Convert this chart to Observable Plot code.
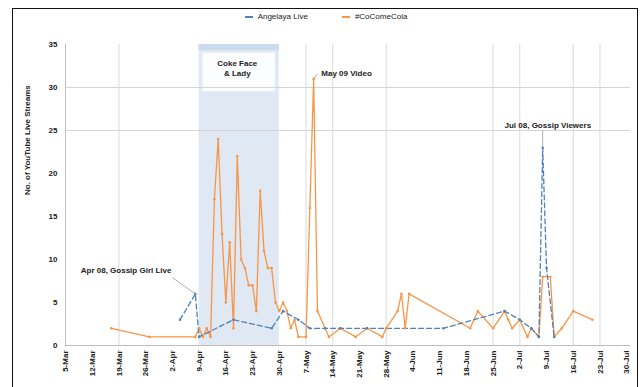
<!DOCTYPE html>
<html>
<head>
<meta charset="utf-8">
<script src="https://cdn.jsdelivr.net/npm/d3@7"></script>
<script src="https://cdn.jsdelivr.net/npm/@observablehq/plot@0.6"></script>
<style>
  body { margin: 0; background: #fff; font-family: "Liberation Sans", Arial, sans-serif; }
  #wrap { position: relative; width: 642px; height: 387px; overflow: hidden; }
  #frame { position: absolute; left: 12px; top: 8px; width: 626px; height: 380px; border: 1.5px solid #111; box-sizing: border-box; pointer-events: none; }
  #legend { position: absolute; top: 12px; left: 0; width: 642px; display: flex; justify-content: center; gap: 34px; font-size: 8px; color: #222; padding-left: 10px; box-sizing: border-box; }
  #legend span.key { display: inline-flex; align-items: center; gap: 5px; }
  #legend i { display: inline-block; width: 8px; height: 2px; }
  #chart { position: absolute; left: 0; top: 0; }
</style>
</head>
<body>
<div id="wrap">
  <div id="chart"></div>
  <div id="legend"></div>
  <div id="frame"></div>
</div>
<script>
// Series names and colours
const seriesNames = ["Angelaya Live", "#CoComeCola"];
const seriesColors = ["#4F81BD", "#F79646"];

// Daily counts of live streams, #CoComeCola
const colaDates = ["2013-03-17","2013-03-27","2013-04-08","2013-04-09","2013-04-10","2013-04-11","2013-04-12",
  "2013-04-13","2013-04-14","2013-04-15","2013-04-16","2013-04-17","2013-04-18","2013-04-19","2013-04-20",
  "2013-04-21","2013-04-22","2013-04-23","2013-04-24","2013-04-25","2013-04-26","2013-04-27","2013-04-28",
  "2013-04-29","2013-04-30","2013-05-01","2013-05-02","2013-05-03","2013-05-04","2013-05-05","2013-05-07",
  "2013-05-08","2013-05-09","2013-05-10","2013-05-12","2013-05-13","2013-05-16","2013-05-20","2013-05-23",
  "2013-05-27","2013-05-28","2013-05-31","2013-06-01","2013-06-02","2013-06-03","2013-06-19","2013-06-21",
  "2013-06-25","2013-06-28","2013-06-29","2013-06-30","2013-07-02","2013-07-04","2013-07-05","2013-07-07",
  "2013-07-08","2013-07-10","2013-07-11","2013-07-13","2013-07-16","2013-07-21"];
const colaValues = [2,1,1,2,1,2,1,
  17,24,13,5,12,2,22,10,
  9,7,7,4,18,11,9,9,
  5,4,5,4,2,3,1,1,
  16,31,4,2,1,2,1,2,
  1,2,4,6,2,6,2,4,
  2,4,3,2,3,1,2,1,
  8,8,1,2,4,3];

// Daily counts of live streams, Angelaya Live
const liveDates = ["2013-04-04","2013-04-08","2013-04-09","2013-04-18","2013-04-28","2013-05-01","2013-05-05",
  "2013-05-08","2013-05-12","2013-05-16","2013-05-23","2013-06-12","2013-06-28","2013-07-02","2013-07-05",
  "2013-07-07","2013-07-08","2013-07-09","2013-07-11"];
const liveValues = [3,6,1,3,2,4,3,
  2,2,2,2,2,4,3,2,
  1,23,9,1];

// Axis ticks
const tickDates = ["2013-03-05","2013-03-12","2013-03-19","2013-03-26","2013-04-02","2013-04-09","2013-04-16",
  "2013-04-23","2013-04-30","2013-05-07","2013-05-14","2013-05-21","2013-05-28","2013-06-04","2013-06-11",
  "2013-06-18","2013-06-25","2013-07-02","2013-07-09","2013-07-16","2013-07-23","2013-07-30"];
const yTicks = [0, 5, 10, 15, 20, 25, 30, 35];
const gridValues = [25, 30];
const gridDates = ["2013-03-19","2013-05-07","2013-05-14","2013-05-28","2013-06-25","2013-07-02","2013-07-16","2013-07-23"];

// Highlighted campaign period and notes
const bandStart = "2013-04-09", bandEnd = "2013-04-30";
const bandLabel = ["Coke Face", "& Lady"];
const notes = [
  {text: "Apr 08, Gossip Girl Live", tx: "2013-03-09", ty: 8.7, fx: "2013-04-02", fy: 7.9, px: "2013-04-08", py: 6},
  {text: "May 09 Video", tx: "2013-05-11", ty: 31.6, fx: "2013-05-10", fy: 31.6, px: "2013-05-09", py: 31},
  {text: "Jul 08, Gossip Viewers", tx: "2013-06-28", ty: 25.6, fx: "2013-07-08", fy: 25, px: "2013-07-08", py: 23}
];

const D = s => new Date(s + "T00:00:00Z");
const cola = colaDates.map((d, i) => ({date: D(d), value: colaValues[i]}));
const live = liveDates.map((d, i) => ({date: D(d), value: liveValues[i]}));
const noteRows = notes.map(n => ({...n, tx: D(n.tx), fx: D(n.fx), px: D(n.px)}));

const chart = Plot.plot({
  width: 642,
  height: 387,
  marginLeft: 65,
  marginRight: 12,
  marginTop: 44,
  marginBottom: 42,
  style: {fontFamily: "'Liberation Sans', Arial, sans-serif", fontSize: "8px", background: "transparent", color: "#222"},
  x: {type: "utc", domain: [D("2013-03-05"), D("2013-07-31")]},
  y: {domain: [0, 35]},
  marks: [
    // campaign period
    Plot.rect([{a: D(bandStart), b: D(bandEnd)}], {x1: "a", x2: "b", y1: 0, y2: 35, fill: "#dfe8f3"}),
    Plot.rect([{a: D(bandStart), b: D(bandEnd)}], {x1: "a", x2: "b", y1: 34.3, y2: 35, fill: "#ccdbec"}),
    Plot.rect([{a: D("2013-04-10"), b: D("2013-04-29")}], {x1: "a", x2: "b", y1: 29.5, y2: 34, fill: "#fff", fillOpacity: 0.9}),
    Plot.text([bandLabel.join("\n")], {x: D("2013-04-19"), y: 32.3, text: d => d, fontSize: 8, lineHeight: 1.25, fill: "#222", fontWeight: "bold"}),
    // grid
    Plot.ruleY(gridValues, {stroke: "#d4d4d4"}),
    Plot.ruleX(gridDates.map(D), {stroke: "#dadada", y1: 0, y2: 35}),
    // axes
    Plot.ruleY([0], {stroke: "#bdbdbd"}),
    Plot.ruleX([D("2013-03-05")], {stroke: "#bdbdbd", y1: 0, y2: 35}),
    Plot.axisY({ticks: yTicks, tickSize: 0, tickPadding: 8, label: null, fontWeight: "bold"}),
    Plot.axisX({ticks: tickDates.map(D), tickFormat: d3.utcFormat("%-d-%b"), tickRotate: -90, tickSize: 0, tickPadding: 5, label: null, fontWeight: "bold"}),
    Plot.text(["No. of YouTube Live Streams"], {frameAnchor: "left", dx: -38, rotate: -90, text: d => d, fontSize: 8, fill: "#222", fontWeight: "bold"}),
    // series
    Plot.line(cola, {x: "date", y: "value", stroke: seriesColors[1], strokeWidth: 1.3}),
    Plot.line(live, {x: "date", y: "value", stroke: seriesColors[0], strokeWidth: 1.3, strokeDasharray: "5,3"}),
    Plot.dot(cola, {x: "date", y: "value", r: 1.3, fill: seriesColors[1]}),
    Plot.dot(live, {x: "date", y: "value", r: 1.3, fill: seriesColors[0]}),
    // notes
    Plot.link(noteRows, {x1: "fx", y1: "fy", x2: "px", y2: "py", stroke: "#9a9a9a", strokeWidth: 0.8}),
    Plot.text(noteRows, {x: "tx", y: "ty", text: "text", textAnchor: "start", fontSize: 8, fontWeight: "bold", fill: "#222"})
  ]
});
document.getElementById("chart").append(chart);

// legend
const legend = document.getElementById("legend");
seriesNames.forEach((name, i) => {
  const s = document.createElement("span");
  s.className = "key";
  s.innerHTML = `<i style="background:${seriesColors[i]}"></i>${name}`;
  legend.append(s);
});
</script>
</body>
</html>
